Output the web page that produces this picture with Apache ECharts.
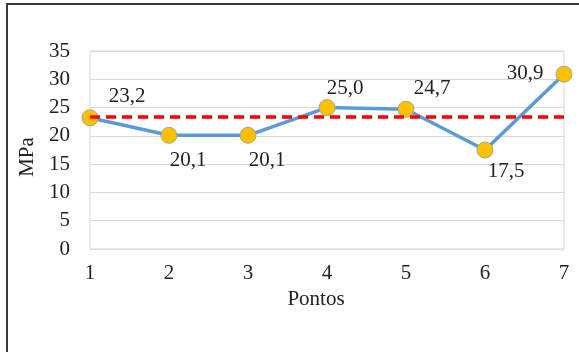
<!DOCTYPE html>
<html>
<head>
<meta charset="utf-8">
<script src="https://cdn.jsdelivr.net/npm/echarts@6/dist/echarts.min.js"></script>
<style>
  html, body { margin: 0; padding: 0; background: #fff; }
  #chart { width: 579px; height: 352px; }
</style>
</head>
<body>
<div id="chart"></div>
<script>
// Measuring points along the section
const pontos = ['1', '2', '3', '4', '5', '6', '7'];
// Strength at each point (MPa)
const resistencia = [23.2, 20.1, 20.1, 25.0, 24.7, 17.5, 30.9];
// Reference strength drawn as the dashed red line (MPa)
const referencia = 23.4;
// Y axis ticks
const yTicks = [0, 5, 10, 15, 20, 25, 30, 35];

// Where each value label sits relative to its marker
const labelOffsets = [[37, -21], [19, 25], [19, 25], [18, -19], [26, -21], [21, 21], [-39, -1]];

const fmt = v => v.toFixed(1).replace('.', ',');
const font = 'Liberation Serif, Times New Roman, serif';
const fs = 21;

const chart = echarts.init(document.getElementById('chart'), null, { renderer: 'canvas' });
chart.setOption({
  animation: false,
  backgroundColor: '#ffffff',
  graphic: [{
    type: 'rect',
    shape: { x: 7, y: 4, width: 640, height: 420 },
    style: { fill: 'none', stroke: '#3a3a3a', lineWidth: 2 },
    silent: true,
    z: 100
  }],
  grid: {
    left: 90, right: 15, top: 51, bottom: 103,
    show: true, borderColor: '#d9d9d9', borderWidth: 1
  },
  xAxis: {
    type: 'category',
    data: pontos,
    boundaryGap: false,
    axisLine: { show: false },
    axisTick: { show: false },
    splitLine: { show: false },
    axisLabel: { color: '#222', fontFamily: font, fontSize: fs, margin: 14 },
    name: 'Pontos',
    nameLocation: 'middle',
    nameGap: 36,
    nameTextStyle: { color: '#222', fontFamily: font, fontSize: fs, padding: [0, 22, 0, 0] }
  },
  yAxis: {
    type: 'value',
    min: yTicks[0],
    max: yTicks[yTicks.length - 1],
    interval: yTicks[1] - yTicks[0],
    axisLine: { show: false },
    axisTick: { show: false },
    splitLine: { lineStyle: { color: '#d9d9d9', width: 1 } },
    axisLabel: { color: '#222', fontFamily: font, fontSize: fs, margin: 20 },
    name: 'MPa',
    nameLocation: 'middle',
    nameGap: 52,
    nameRotate: 90,
    nameTextStyle: { color: '#222', fontFamily: font, fontSize: fs, padding: [0, 14, 0, 0] }
  },
  series: [{
    type: 'line',
    data: resistencia.map((v, i) => ({
      value: v,
      label: { offset: labelOffsets[i] }
    })),
    lineStyle: { color: '#5b9bd5', width: 3.5 },
    symbol: 'circle',
    symbolSize: 16,
    itemStyle: { color: '#ffc000', borderColor: '#a5a58a', borderWidth: 1 },
    label: {
      show: true,
      position: 'inside',
      formatter: p => fmt(p.value),
      color: '#222',
      fontFamily: font,
      fontSize: fs
    },
    markLine: {
      silent: true,
      symbol: 'none',
      label: { show: false },
      lineStyle: { color: '#ff0000', width: 3.5, type: [10, 6] },
      data: [{ yAxis: referencia }]
    },
    z: 3
  }]
});
</script>
</body>
</html>
